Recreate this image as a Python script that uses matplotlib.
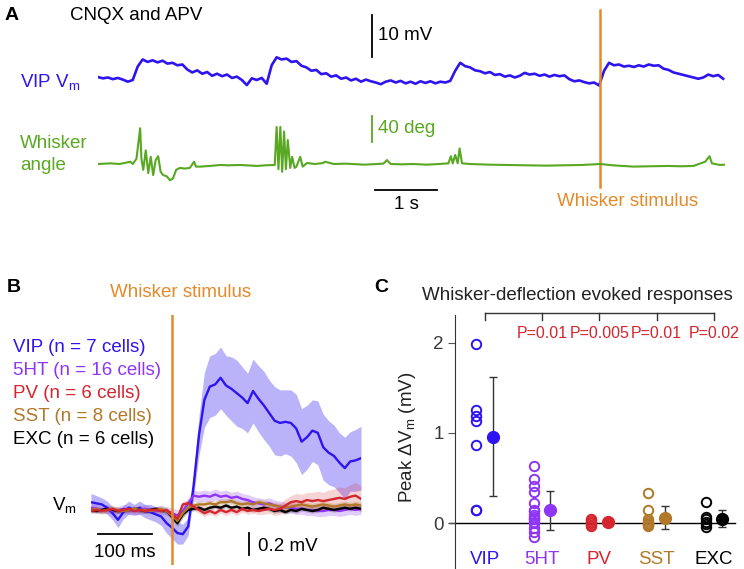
import numpy as np
import matplotlib
matplotlib.use("Agg")
import matplotlib.pyplot as plt

plt.rcParams['font.family'] = ['Liberation Sans', 'DejaVu Sans']
plt.rcParams['mathtext.fontset'] = 'custom'
plt.rcParams['mathtext.rm'] = 'Liberation Sans'
plt.rcParams['mathtext.it'] = 'Liberation Sans:italic'

# colours
c_vip = '#2d14f0'
c_5ht = '#8f35f5'
c_pv = '#d5252d'
c_sst = '#b07828'
c_exc = 'black'
c_green = '#58a822'
c_orange = '#e38a2a'

# ---- panel A: example VIP trace (mV, 0.08 s steps) and whisker angle (deg)
vip_vm_a = [0.7, 0.4, 0.6, 0.2, 0.5, 0.1, -0.4, 0.0, 3.2, 4.9,
            4.3, 4.7, 4.2, 4.6, 3.9, 4.1, 3.5, 3.7, 2.5, 1.8,
            2.3, 1.5, 1.9, 1.0, 1.5, 0.9, 1.3, 0.5, 0.8, 0.0,
            -1.2, 0.4, 0.0, 0.5, -0.9, 3.5, 5.4, 4.9, 5.1, 4.3,
            4.5, 3.4, 3.0, 2.2, 2.4, 1.4, 1.6, 0.8, 1.1, 0.3,
            0.6, -0.1, 0.3, -0.4, 0.1, -0.3, -0.6, -1.0, -0.4, -0.1,
            -0.6, -0.2, -0.8, -0.4, -0.9, -0.3, -0.7, -0.3, -0.8, -0.4,
            -0.6, -0.2, 2.2, 4.1, 3.3, 3.0, 2.3, 2.1, 1.6, 1.9,
            1.2, 1.4, 0.8, 1.1, 0.6, 1.0, 1.7, 1.3, 1.5, 1.0,
            1.3, 0.8, 1.2, 0.9, 1.1, 0.2, -0.3, -0.1, -0.5, -0.8,
            -0.6, -1.3, 2.2, 4.1, 3.5, 3.7, 3.2, 3.4, 3.1, 3.5,
            3.2, 3.7, 3.4, 3.5, 2.7, 2.4, 1.8, 1.5, 1.2, 0.9,
            0.6, 0.3, 0.6, 1.3, 0.9, 1.2, 0.3]
dt_a = 0.08
whisk_t = [0.0, 0.2, 0.35, 0.45, 0.52, 0.56, 0.62, 0.68, 0.70, 0.73,
           0.77, 0.81, 0.85, 0.89, 0.93, 0.97, 1.01, 1.05, 1.11, 1.16,
           1.21, 1.26, 1.32, 1.40, 1.48, 1.55, 1.58, 1.65, 1.80, 1.97,
           2.10, 2.30, 2.56, 2.70, 2.85, 2.88, 2.91, 2.94, 2.97, 3.00,
           3.03, 3.06, 3.10, 3.13, 3.17, 3.20, 3.26, 3.30, 3.37, 3.50,
           3.63, 3.66, 3.80, 4.00, 4.30, 4.60, 4.66, 4.72, 4.90, 5.08,
           5.30, 5.50, 5.65, 5.69, 5.72, 5.76, 5.80, 5.83, 5.87, 6.00,
           6.30, 6.60, 6.90, 7.24, 7.50, 7.80, 8.10, 8.30, 8.63, 8.90,
           9.20, 9.40, 9.60, 9.79, 9.86, 9.90, 9.95, 10.03, 10.11]
whisk_deg = [0, 1, 0, 2, 3.5, 0, 8, 55, 8, -9,
             21, -14, 11, -17, 6, 12, -12, -17, -19, -25,
             -22, -9, -6, -7, -6, 3.5, -4, -4, -3, -1.5,
             -2, -1.5, -3, -2, -1.5, 57, -8, 57, -12, 50,
             -8, 37, -6, 11, -6, -4, 11, -4, 1.5, 0,
             1.5, 3.5, 0, 0.5, -1, 0.5, 6, 0, -0.5, 0,
             -1, 0, 1, 12, 1, 14, 1, 24, 1, 0,
             -1, -1.5, -2, -2.5, -2, -1.5, 0, -2, -4, -3.5,
             -3, -3.5, -3, 3.5, 12, 1, 0, -1.5, -1]
stim_a = 8.1

# ---- panel B: average Vm (mV), 10 ms steps from -150 to 350 ms
t_b = np.arange(-150, 351, 10)
vip_mean = [0.07, 0.06, 0.05, 0.02, -0.03, -0.09, -0.02, 0.02, 0.00, 0.02,
            -0.01, -0.02, -0.04, -0.06, -0.12, -0.16, -0.21, -0.22, -0.15, 0.22,
            0.68, 1.00, 1.12, 1.14, 1.20, 1.13, 1.10, 1.06, 1.02, 0.97,
            1.08, 1.01, 0.95, 0.88, 0.81, 0.79, 0.80, 0.79, 0.74, 0.62,
            0.66, 0.72, 0.70, 0.57, 0.52, 0.49, 0.43, 0.38, 0.44, 0.45, 0.47]
vip_sem = [0.08, 0.07, 0.06, 0.06, 0.06, 0.07, 0.06, 0.06, 0.05, 0.06,
           0.06, 0.07, 0.07, 0.08, 0.09, 0.10, 0.10, 0.09, 0.08, 0.10,
           0.18, 0.25, 0.28, 0.28, 0.28, 0.27, 0.29, 0.30, 0.28, 0.27,
           0.29, 0.30, 0.31, 0.30, 0.31, 0.30, 0.29, 0.30, 0.31, 0.30,
           0.29, 0.28, 0.29, 0.30, 0.29, 0.28, 0.27, 0.28, 0.27, 0.28, 0.29]
ht_mean = [0.02, 0.01, 0.00, 0.01, -0.01, 0.00, 0.01, 0.00, -0.01, 0.00,
           0.01, 0.00, -0.01, 0.00, -0.01, -0.03, -0.05, -0.01, 0.06, 0.13,
           0.12, 0.13, 0.12, 0.14, 0.12, 0.13, 0.11, 0.12, 0.10, 0.09,
           0.07, 0.06, 0.05, 0.06, 0.04, 0.03, 0.02, 0.02, 0.01, 0.01,
           0.00, 0.00, -0.01, -0.01, 0.00, 0.00, -0.01, 0.00, 0.01, 0.00, 0.01]
ht_sem = [0.04, 0.04, 0.03, 0.04, 0.04, 0.03, 0.04, 0.04, 0.03, 0.04,
          0.04, 0.03, 0.04, 0.04, 0.04, 0.05, 0.05, 0.04, 0.05, 0.05,
          0.05, 0.05, 0.05, 0.05, 0.05, 0.05, 0.05, 0.05, 0.05, 0.05,
          0.05, 0.05, 0.05, 0.05, 0.05, 0.05, 0.05, 0.05, 0.05, 0.05,
          0.05, 0.05, 0.05, 0.05, 0.05, 0.05, 0.05, 0.05, 0.05, 0.05, 0.05]
pv_mean = [-0.01, 0.00, -0.01, 0.00, 0.01, -0.01, 0.00, 0.01, -0.01, 0.00,
           -0.01, 0.00, 0.00, -0.01, 0.00, -0.04, -0.08, 0.05, 0.06, 0.03,
           0.00, -0.03, -0.01, -0.03, 0.00, -0.02, 0.00, -0.02, 0.01, -0.01,
           0.00, -0.01, 0.00, 0.01, 0.00, 0.01, 0.04, 0.07, 0.08, 0.07,
           0.09, 0.08, 0.09, 0.08, 0.09, 0.10, 0.11, 0.10, 0.12, 0.13, 0.10]
pv_sem = [0.02, 0.02, 0.02, 0.02, 0.02, 0.02, 0.02, 0.02, 0.02, 0.02,
          0.02, 0.02, 0.02, 0.02, 0.02, 0.03, 0.03, 0.03, 0.03, 0.03,
          0.03, 0.03, 0.03, 0.03, 0.03, 0.03, 0.03, 0.03, 0.03, 0.03,
          0.03, 0.03, 0.04, 0.04, 0.05, 0.05, 0.06, 0.06, 0.07, 0.07,
          0.07, 0.08, 0.08, 0.08, 0.09, 0.09, 0.10, 0.10, 0.11, 0.12, 0.12]
sst_mean = [0.00, 0.01, -0.01, 0.00, 0.01, 0.00, -0.01, 0.00, 0.01, 0.00,
            0.00, -0.01, 0.00, 0.01, -0.01, -0.05, -0.10, -0.03, 0.02, 0.04,
            0.05, 0.05, 0.06, 0.05, 0.07, 0.07, 0.08, 0.06, 0.05, 0.06,
            0.05, 0.07, 0.06, 0.05, 0.04, 0.03, 0.02, 0.03, 0.04, 0.05,
            0.04, 0.03, 0.04, 0.05, 0.04, 0.03, 0.04, 0.05, 0.04, 0.05, 0.04]
sst_sem = [0.03, 0.03, 0.03, 0.03, 0.03, 0.03, 0.03, 0.03, 0.03, 0.03,
           0.03, 0.03, 0.03, 0.03, 0.03, 0.03, 0.04, 0.04, 0.03, 0.03,
           0.03, 0.03, 0.03, 0.03, 0.03, 0.03, 0.03, 0.03, 0.03, 0.03,
           0.03, 0.03, 0.03, 0.03, 0.03, 0.03, 0.03, 0.03, 0.03, 0.03,
           0.03, 0.03, 0.03, 0.03, 0.03, 0.03, 0.03, 0.03, 0.03, 0.03, 0.03]
exc_mean = [0.00, -0.01, 0.00, 0.01, 0.00, -0.01, 0.00, 0.00, 0.01, 0.00,
            -0.01, 0.00, 0.01, 0.00, -0.01, -0.06, -0.12, -0.04, 0.00, 0.01,
            0.02, 0.00, 0.02, 0.03, 0.02, 0.04, 0.02, 0.03, 0.01, 0.02,
            0.00, 0.01, 0.02, 0.01, -0.01, 0.00, -0.02, 0.00, -0.01, 0.01,
            0.00, -0.01, 0.00, 0.02, 0.01, 0.00, 0.01, 0.02, 0.01, 0.02, 0.01]
exc_sem = [0.02, 0.02, 0.02, 0.02, 0.02, 0.02, 0.02, 0.02, 0.02, 0.02,
           0.02, 0.02, 0.02, 0.02, 0.02, 0.03, 0.03, 0.03, 0.02, 0.02,
           0.02, 0.02, 0.02, 0.02, 0.02, 0.02, 0.02, 0.02, 0.02, 0.02,
           0.02, 0.02, 0.02, 0.02, 0.02, 0.02, 0.02, 0.02, 0.02, 0.02,
           0.02, 0.02, 0.02, 0.02, 0.02, 0.02, 0.02, 0.02, 0.02, 0.02, 0.02]
legend_b = ['VIP (n = 7 cells)', '5HT (n = 16 cells)', 'PV (n = 6 cells)',
            'SST (n = 8 cells)', 'EXC (n = 6 cells)']

# ---- panel C: peak response per cell (mV)
groups = ['VIP', '5HT', 'PV', 'SST', 'EXC']
vip_cells = [1.99, 1.26, 1.19, 1.13, 0.87, 0.14, 0.14]
ht_cells = [0.63, 0.49, 0.41, 0.34, 0.22, 0.14, 0.13, 0.09, 0.07, 0.05,
            0.04, 0.01, 0.00, -0.05, -0.10, -0.15]
pv_cells = [0.05, 0.03, 0.01, 0.00, -0.02, -0.03]
sst_cells = [0.33, 0.14, 0.04, 0.02, 0.00, -0.01, -0.02, -0.03]
exc_cells = [0.23, 0.07, 0.04, 0.01, -0.01, -0.04]
group_mean = [0.96, 0.14, 0.01, 0.06, 0.05]
group_err = [0.66, 0.22, 0.03, 0.125, 0.09]
p_values = ['P=0.01', 'P=0.005', 'P=0.01', 'P=0.02']

colors = [c_vip, c_5ht, c_pv, c_sst, c_exc]

W, H = 744, 569
fig = plt.figure(figsize=(W / 100, H / 100), dpi=100)


def box(x0, y0, x1, y1):
    return [x0 / W, 1 - y1 / H, (x1 - x0) / W, (y1 - y0) / H]


def ftext(x, y, s, **kw):
    fig.text(x / W, 1 - y / H, s, **kw)


FS = 13.5

# ================= A
axV = fig.add_axes(box(98, 5, 725, 100))
axV.set_xlim(0, 10.11)
axV.set_ylim(-4.76, 17.86)
axV.axis('off')
t_a = np.arange(len(vip_vm_a)) * dt_a
axV.plot(t_a, vip_vm_a, color=c_vip, lw=1.9)
axV.plot([4.42, 4.42], [5.5, 15.5], color='black', lw=1.3)
axV.text(4.52, 10.5, '10 mV', fontsize=FS, va='center', ha='left')
axV.axvline(stim_a, ymin=(100 - 187) / 95, ymax=(100 - 10) / 95,
            color=c_orange, lw=1.8, clip_on=False, zorder=5)

axW = fig.add_axes(box(98, 105, 725, 195))
axW.set_xlim(0, 10.11)
axW.set_ylim(-47.7, 90.8)
axW.axis('off')
axW.plot(whisk_t, whisk_deg, color=c_green, lw=1.5)
axW.plot([4.42, 4.42], [33.8, 73.8], color=c_green, lw=1.3)
axW.text(4.52, 55, '40 deg', fontsize=FS, va='center', ha='left', color=c_green)
axW.plot([4.47, 5.47], [-40, -40], color='black', lw=1.3, clip_on=False)
axW.text(4.97, -63, '1 s', fontsize=FS, va='center', ha='center')

ftext(12, 15, 'A', fontsize=14, fontweight='bold', ha='center', va='center')
ftext(70, 16, 'CNQX and APV', fontsize=FS, ha='left', va='center')
ftext(20, 82, r'VIP V$_\mathrm{m}$', fontsize=FS, ha='left', va='center', color=c_vip)
ftext(20, 143, 'Whisker', fontsize=FS, ha='left', va='center', color=c_green)
ftext(20, 166, 'angle', fontsize=FS, ha='left', va='center', color=c_green)
ftext(628, 202, 'Whisker stimulus', fontsize=FS, ha='center', va='center', color=c_orange)

# ================= B
axB = fig.add_axes(box(91, 315, 361, 565))
axB.set_xlim(-150, 350)
axB.set_ylim(-0.5, 1.77)
axB.axis('off')
means = [vip_mean, ht_mean, pv_mean, sst_mean, exc_mean]
sems = [vip_sem, ht_sem, pv_sem, sst_sem, exc_sem]
band_alpha = [0.32, 0.25, 0.2, 0.25, 0.2]
for m, s, c, a in zip(means, sems, colors, band_alpha):
    m = np.array(m)
    s = np.array(s)
    axB.fill_between(t_b, m - s, m + s, color=c, alpha=a, lw=0, zorder=1)
for i in [0, 1, 4, 3, 2]:
    axB.plot(t_b, means[i], color=colors[i], lw=1.7, zorder=3)
axB.axvline(0, color=c_orange, lw=1.8, zorder=4)
axB.plot([-137, -37], [-0.22, -0.22], color='black', lw=1.3, clip_on=False)
axB.text(-87, -0.39, '100 ms', fontsize=FS, ha='center', va='center')
axB.plot([142.6, 142.6], [-0.21, -0.41], color='black', lw=1.3, clip_on=False)
axB.text(159, -0.33, '0.2 mV', fontsize=FS, ha='left', va='center')

ftext(14, 288, 'B', fontsize=14, fontweight='bold', ha='center', va='center')
ftext(181, 293, 'Whisker stimulus', fontsize=FS, ha='center', va='center', color=c_orange)
for k, (lab, c) in enumerate(zip(legend_b, colors)):
    ftext(13, 348 + k * 22.8, lab, fontsize=FS, ha='left', va='center', color=c)
ftext(77, 505, r'V$_\mathrm{m}$', fontsize=FS, ha='right', va='center')

# ================= C
axC = fig.add_axes(box(455, 315, 735, 569))
axC.set_xlim(-0.52, 4.37)
axC.set_ylim(-0.51, 2.31)
for sp in ['top', 'right', 'bottom']:
    axC.spines[sp].set_visible(False)
axC.spines['left'].set_color('#333333')
axC.set_xticks([])
axC.set_yticks([0, 1, 2])
axC.set_yticklabels(['0', '1', '2'])
axC.tick_params(axis='y', direction='out', length=5, color='#555555',
                labelsize=FS, labelcolor='#3a3a3a', pad=3)
axC.axhline(0, xmin=-0.02, xmax=1, color='black', lw=1, clip_on=False, zorder=1)

cells = [vip_cells, ht_cells, pv_cells, sst_cells, exc_cells]
for i, (vals, c) in enumerate(zip(cells, colors)):
    axC.plot([i - 0.145] * len(vals), vals, 'o', mfc='none', mec=c, ms=6.8,
             mew=1.4, zorder=3)
    axC.errorbar(i + 0.145, group_mean[i], yerr=group_err[i], fmt='none',
                 ecolor='#333333', elinewidth=1, capsize=3, capthick=1, zorder=2)
    axC.plot(i + 0.145, group_mean[i], 'o', color=c, ms=8.5, zorder=4)
    axC.text(i, -0.41, groups[i], color=c, fontsize=FS, ha='center', va='center')

# significance bracket
axC.plot([0, 4], [2.33, 2.33], color='#333333', lw=1, clip_on=False)
for i in range(5):
    axC.plot([i, i], [2.33, 2.25], color='#333333', lw=1, clip_on=False)
for i, p in enumerate(p_values):
    axC.text(i + 1, 2.11, p, color=c_pv, fontsize=11.5, ha='center', va='center',
             family=['Liberation Sans', 'DejaVu Sans'])

ftext(381, 288, 'C', fontsize=14, fontweight='bold', ha='center', va='center')
ftext(577, 295, 'Whisker-deflection evoked responses', fontsize=FS,
      ha='center', va='center', color='#222222')
ftext(408, 437, r'Peak ΔV$_\mathrm{m}$ (mV)', fontsize=FS, rotation=90,
      ha='center', va='center', color='#222222')

fig.savefig('out.png', dpi=100)
